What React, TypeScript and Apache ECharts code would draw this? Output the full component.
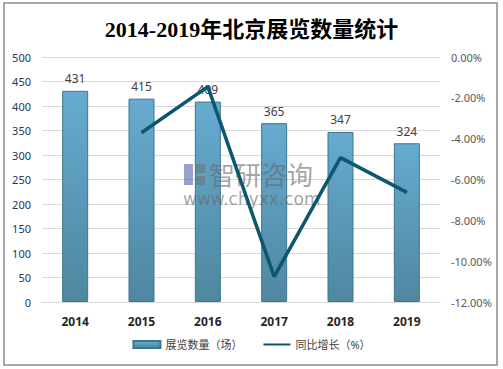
import React, { useEffect, useRef } from "react";
import * as echarts from "echarts";

const categories = ["2014", "2015", "2016", "2017", "2018", "2019"];
const exhibitionCounts = [431, 415, 409, 365, 347, 324];
const growthRates: (number | null)[] = [null, -3.71, -1.45, -10.76, -4.93, -6.63];
const leftTicks = { min: 0, max: 500, interval: 50 };
const rightTicks = { min: -12, max: 0, interval: 2 };
const barName = "展览数量（场）";
const lineName = "同比增长（%）";
const titleText = "2014-2019年北京展览数量统计";

export default function App() {
  const ref = useRef<HTMLDivElement>(null);
  useEffect(() => {
    if (!ref.current) return;
    const chart = echarts.init(ref.current, undefined, { renderer: "svg" });
    const sans = "'Noto Sans', 'Noto Sans CJK SC', sans-serif";
    const wm = "rgba(105,105,105,0.6)";
    chart.setOption({
      animation: false,
      backgroundColor: "#ffffff",
      title: {
        text: titleText,
        left: "center",
        top: 13,
        textStyle: {
          fontFamily: "'Liberation Serif', 'Noto Sans CJK SC', serif",
          fontWeight: "bold",
          fontSize: 22,
          color: "#000000",
        },
      },
      legend: {
        bottom: 14,
        left: "center",
        itemGap: 20,
        itemWidth: 27,
        itemHeight: 7,
        textStyle: { fontFamily: sans, fontSize: 11, color: "#404040" },
        data: [
          { name: barName, icon: "rect" },
          { name: lineName, itemStyle: { opacity: 0 } },
        ],
      },
      grid: { left: 42, right: 63, top: 57, bottom: 67 },
      xAxis: {
        type: "category",
        data: categories,
        axisLine: { show: true, lineStyle: { color: "#d9d9d9" } },
        axisTick: { show: false },
        axisLabel: {
          margin: 13,
          fontFamily: sans,
          fontWeight: "bold",
          fontSize: 12,
          color: "#262626",
        },
      },
      yAxis: [
        {
          type: "value",
          min: leftTicks.min,
          max: leftTicks.max,
          interval: leftTicks.interval,
          axisLine: { show: false },
          axisTick: { show: false },
          splitLine: { lineStyle: { color: "#d9d9d9" } },
          axisLabel: { margin: 11, fontFamily: sans, fontSize: 11, color: "#2e3550" },
        },
        {
          type: "value",
          min: rightTicks.min,
          max: rightTicks.max,
          interval: rightTicks.interval,
          axisLine: { show: false },
          axisTick: { show: false },
          splitLine: { show: false },
          axisLabel: {
            margin: 11,
            fontFamily: sans,
            fontSize: 11,
            color: "#595959",
            formatter: (v: number) => v.toFixed(2) + "%",
          },
        },
      ],
      series: [
        {
          name: barName,
          type: "bar",
          yAxisIndex: 0,
          data: exhibitionCounts,
          barWidth: 26,
          itemStyle: {
            color: new echarts.graphic.LinearGradient(0, 0, 0, 1, [
              { offset: 0, color: "#66abd0" },
              { offset: 1, color: "#4f879f" },
            ]),
            borderColor: "#3d7690",
            borderWidth: 1,
          },
          label: {
            show: true,
            position: "top",
            distance: 6,
            fontFamily: sans,
            fontSize: 12,
            color: "#404040",
          },
        },
        {
          name: lineName,
          type: "line",
          yAxisIndex: 1,
          data: growthRates,
          symbol: "none",
          showSymbol: false,
          lineStyle: { color: "#0d566f", width: 3.5 },
          itemStyle: { color: "#0d566f" },
          z: 60,
        },
      ],
      graphic: [
        {
          type: "rect",
          z: 100,
          shape: { x: 4, y: 3, width: 493, height: 362 },
          style: { fill: "none", stroke: "#8c8c8c", lineWidth: 1.5 },
          silent: true,
        },
        { type: "rect", z: 50, silent: true, shape: { x: 184, y: 164, width: 9, height: 21 }, style: { fill: "rgba(80,100,170,0.6)" } },
        { type: "rect", z: 50, silent: true, shape: { x: 195, y: 164, width: 10, height: 9 }, style: { fill: "rgba(110,110,110,0.5)" } },
        { type: "rect", z: 50, silent: true, shape: { x: 195, y: 176, width: 10, height: 9 }, style: { fill: "rgba(110,110,110,0.5)" } },
        {
          type: "text",
          z: 50,
          silent: true,
          x: 209,
          y: 173,
          style: {
            text: "智研咨询",
            font: "26px 'Noto Sans CJK SC', sans-serif",
            lineHeight: 26,
            fill: wm,
            verticalAlign: "middle",
          },
        },
        {
          type: "text",
          z: 50,
          silent: true,
          x: 183,
          y: 199,
          style: {
            text: "www.chyxx.com",
            font: "17px 'DejaVu Sans', sans-serif",
            lineHeight: 17,
            fill: wm,
            verticalAlign: "middle",
          },
        },
      ],
    });
    return () => chart.dispose();
  }, []);
  return (
    <div
      ref={ref}
      style={{ position: "fixed", left: 0, top: 0, width: 503, height: 369 }}
    />
  );
}
